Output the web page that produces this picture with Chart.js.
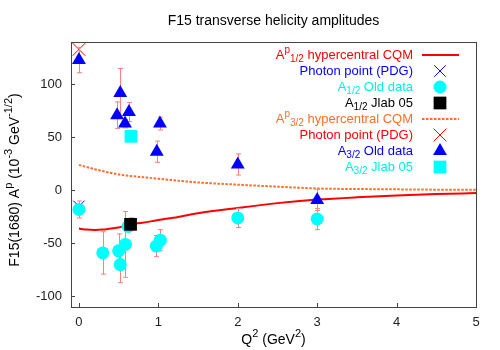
<!DOCTYPE html>
<html lang="en">
<head>
  <meta charset="UTF-8">
  <title>F15 transverse helicity amplitudes</title>
  <script src="https://cdn.jsdelivr.net/npm/chart.js"></script>
  <style>
    html, body { margin: 0; padding: 0; background: #fff; }
    #chart { display: block; }
  </style>
</head>
<body>
  <canvas id="chart" width="500" height="350"></canvas>
  <script>
    // axis ticks
    const xTicks = [0, 1, 2, 3, 4, 5];
    const yTicks = [-100, -50, 0, 50, 100];

    // hypercentral CQM curves
    const a12CurveQ2 = [0, 0.1, 0.2, 0.3, 0.4, 0.5, 0.65, 0.8, 1.0, 1.25, 1.5, 2.0, 2.5, 3.0, 3.5, 4.0, 4.5, 5.0];
    const a12CurveAmp = [-36, -37, -37.3, -37, -36, -35, -32, -30.5, -28, -25, -21.5, -16.5, -12, -8.7, -6.5, -4.8, -3.5, -2.5];
    const a32CurveQ2 = [0, 0.1, 0.2, 0.4, 0.6, 0.8, 1.0, 1.5, 2.0, 2.5, 3.0, 3.5, 4.0, 4.5, 5.0];
    const a32CurveAmp = [24, 22, 20, 16.5, 14, 12.5, 11, 7.5, 5.4, 3.5, 1.8, 1.3, 1.0, 0.7, 0.5];

    // photon points (PDG)
    const photonQ2 = [0];
    const photonA12 = [-15];
    const photonA32 = [133];

    // A1/2 data
    const oldA12Q2 = [0, 0.30, 0.50, 0.52, 0.585, 0.62, 0.975, 1.025, 2.0, 3.0];
    const oldA12 = [-18, -59, -57, -70, -51, -34, -52.5, -47, -26, -27];
    const oldA12Err = [8, 20, 16, 17, 31, 5, 10, 10, 9, 10];
    const jlabA12Q2 = [0.65];
    const jlabA12 = [-32];
    const jlabA12Err = [6];

    // A3/2 data
    const oldA32Q2 = [0, 0.48, 0.52, 0.58, 0.63, 0.98, 1.02, 2.0, 3.0];
    const oldA32 = [123, 71, 92, 63, 74, 36.5, 63, 24.5, -9];
    const oldA32Err = [12, 12.5, 23, 4, 9, 10, 6, 10, 10];
    const jlabA32Q2 = [0.655];
    const jlabA32 = [51];
    const jlabA32Err = [3];

    const FONT = '"Liberation Sans", Arial, Helvetica, sans-serif';
    const ERR_COLOR = '#ff8080';
    const ORANGE = '#ff6e28';
    const CYAN = '#00eeee';

    const pts = (xs, ys) => xs.map((x, i) => ({ x: x, y: ys[i] }));

    // draw text with ^{sup} and _{sub} markup
    function richParts(str) {
      const out = [];
      const re = /\^\{([^}]*)\}|_\{([^}]*)\}|([^^_]+)/g;
      let m;
      while ((m = re.exec(str))) {
        if (m[1] !== undefined) out.push({ t: m[1], k: 'sup' });
        else if (m[2] !== undefined) out.push({ t: m[2], k: 'sub' });
        else out.push({ t: m[3], k: 'n' });
      }
      return out;
    }
    function drawRich(ctx, str, x, y, align, size, color) {
      const parts = richParts(str);
      const small = Math.round(size * 0.75);
      let w = 0;
      parts.forEach(p => {
        ctx.font = (p.k === 'n' ? size : small) + 'px ' + FONT;
        p.w = ctx.measureText(p.t).width;
        w += p.w;
      });
      let cx = align === 'right' ? x - w : align === 'center' ? x - w / 2 : x;
      ctx.fillStyle = color;
      ctx.textAlign = 'left';
      ctx.textBaseline = 'middle';
      parts.forEach(p => {
        ctx.font = (p.k === 'n' ? size : small) + 'px ' + FONT;
        const dy = p.k === 'sup' ? -size * 0.4 : p.k === 'sub' ? size * 0.35 : 0;
        ctx.fillText(p.t, cx, y + dy);
        cx += p.w;
      });
    }

    const errorBars = {
      id: 'errorBars',
      beforeDatasetDraw(chart, args) {
        const ds = chart.data.datasets[args.index];
        if (!ds.errors) return;
        const { ctx, chartArea: a } = chart;
        const xs = chart.scales.x, ys = chart.scales.y;
        ctx.save();
        ctx.beginPath();
        ctx.rect(a.left, a.top, a.right - a.left, a.bottom - a.top);
        ctx.clip();
        ctx.strokeStyle = ERR_COLOR;
        ctx.lineWidth = 1;
        ds.data.forEach((p, i) => {
          const e = ds.errors[i];
          const px = Math.round(xs.getPixelForValue(p.x)) + 0.5;
          const y1 = ys.getPixelForValue(p.y + e);
          const y2 = ys.getPixelForValue(p.y - e);
          ctx.beginPath();
          ctx.moveTo(px, y1); ctx.lineTo(px, y2);
          ctx.moveTo(px - 2.5, y1); ctx.lineTo(px + 2.5, y1);
          ctx.moveTo(px - 2.5, y2); ctx.lineTo(px + 2.5, y2);
          ctx.stroke();
        });
        ctx.restore();
      }
    };

    const frameAndText = {
      id: 'frameAndText',
      afterDraw(chart) {
        const { ctx, chartArea: a } = chart;
        const xs = chart.scales.x, ys = chart.scales.y;
        ctx.save();
        // frame
        ctx.strokeStyle = '#444';
        ctx.lineWidth = 1;
        ctx.strokeRect(Math.round(a.left) + 0.5, Math.round(a.top) + 0.5, Math.round(a.right - a.left), Math.round(a.bottom - a.top));
        // inward ticks
        ctx.beginPath();
        xTicks.forEach(v => {
          const px = Math.round(xs.getPixelForValue(v)) + 0.5;
          ctx.moveTo(px, a.bottom); ctx.lineTo(px, a.bottom - 4);
        });
        yTicks.forEach(v => {
          const py = Math.round(ys.getPixelForValue(v)) + 0.5;
          ctx.moveTo(a.left, py); ctx.lineTo(a.left + 4, py);
        });
        ctx.stroke();

        // title and axis titles
        drawRich(ctx, 'F15 transverse helicity amplitudes', (a.left + a.right) / 2, 21, 'center', 14, '#000');
        drawRich(ctx, 'Q^{2} (GeV^{2})', (a.left + a.right) / 2, 340, 'center', 14, '#000');
        ctx.save();
        ctx.translate(15, 180);
        ctx.rotate(-Math.PI / 2);
        drawRich(ctx, 'F15(1680) A^{p} (10^{-3} GeV^{-1/2})', 0, 0, 'center', 14, '#000');
        ctx.restore();

        // legend
        const textRight = 413, sampleX = 440;
        chart.data.datasets.forEach((ds, i) => {
          const y = 55 + i * 16;
          drawRich(ctx, ds.legendText, textRight, y, 'right', 13, ds.textColor);
          if (ds.showLine) {
            ctx.save();
            ctx.strokeStyle = ds.borderColor;
            ctx.lineWidth = ds.borderWidth;
            ctx.setLineDash(ds.borderDash || []);
            ctx.beginPath();
            ctx.moveTo(sampleX - 18, y); ctx.lineTo(sampleX + 19, y);
            ctx.stroke();
            ctx.restore();
          } else {
            ctx.fillStyle = ds.backgroundColor;
            ctx.strokeStyle = ds.borderColor;
            ctx.setLineDash([]);
            Chart.helpers.drawPoint(ctx, {
              pointStyle: ds.pointStyle, rotation: 0,
              radius: ds.pointRadius, borderWidth: ds.borderWidth
            }, sampleX, y);
          }
        });
        ctx.restore();
      }
    };

    const datasets = [
      { legendText: 'A^{p}_{1/2} hypercentral CQM', textColor: '#ff0000',
        data: pts(a12CurveQ2, a12CurveAmp), showLine: true, borderColor: '#ff0000', borderWidth: 2,
        pointRadius: 0, tension: 0.4, cubicInterpolationMode: 'monotone' },
      { legendText: 'Photon point (PDG)', textColor: '#0000ff',
        data: pts(photonQ2, photonA12), pointStyle: 'crossRot', pointRadius: 8,
        borderColor: '#0000ff', backgroundColor: '#0000ff', borderWidth: 1 },
      { legendText: 'A_{1/2} Old data', textColor: CYAN,
        data: pts(oldA12Q2, oldA12), errors: oldA12Err, pointStyle: 'circle', pointRadius: 6.5,
        borderColor: '#00ffff', backgroundColor: '#00ffff', borderWidth: 0 },
      { legendText: 'A_{1/2} Jlab 05', textColor: '#000000',
        data: pts(jlabA12Q2, jlabA12), errors: jlabA12Err, pointStyle: 'rect', pointRadius: 9,
        borderColor: '#000000', backgroundColor: '#000000', borderWidth: 0 },
      { legendText: 'A^{p}_{3/2} hypercentral CQM', textColor: ORANGE,
        data: pts(a32CurveQ2, a32CurveAmp), showLine: true, borderColor: ORANGE, borderWidth: 2,
        borderDash: [2.5, 1.5], pointRadius: 0, tension: 0.4, cubicInterpolationMode: 'monotone' },
      { legendText: 'Photon point (PDG)', textColor: '#ff0000',
        data: pts(photonQ2, photonA32), pointStyle: 'crossRot', pointRadius: 9,
        borderColor: '#ff0000', backgroundColor: '#ff0000', borderWidth: 1 },
      { legendText: 'A_{3/2} Old data', textColor: '#0000ff',
        data: pts(oldA32Q2, oldA32), errors: oldA32Err, pointStyle: 'triangle', pointRadius: 8,
        borderColor: '#0000ff', backgroundColor: '#0000ff', borderWidth: 0 },
      { legendText: 'A_{3/2} Jlab 05', textColor: CYAN,
        data: pts(jlabA32Q2, jlabA32), errors: jlabA32Err, pointStyle: 'rect', pointRadius: 9,
        borderColor: '#00ffff', backgroundColor: '#00ffff', borderWidth: 0 }
    ];
    // later gnuplot entries sit on top
    datasets.forEach((d, i) => { d.order = datasets.length - i; });

    new Chart(document.getElementById('chart'), {
      type: 'scatter',
      data: { datasets: datasets },
      options: {
        responsive: false,
        animation: false,
        events: [],
        layout: { padding: { top: 42, right: 24, left: 0, bottom: 0 } },
        plugins: { legend: { display: false }, title: { display: false }, tooltip: { enabled: false } },
        scales: {
          x: {
            type: 'linear', min: -0.1, max: 5,
            grid: { display: false, drawTicks: false }, border: { display: false },
            ticks: { padding: 8, color: '#222', font: { family: FONT, size: 13 } },
            afterBuildTicks: s => { s.ticks = xTicks.map(v => ({ value: v })); },
            afterFit: s => { s.height = 43; }
          },
          y: {
            type: 'linear', min: -110, max: 140,
            grid: { display: false, drawTicks: false }, border: { display: false },
            ticks: { padding: 9, color: '#222', font: { family: FONT, size: 13 } },
            afterBuildTicks: s => { s.ticks = yTicks.map(v => ({ value: v })); },
            afterFit: s => { s.width = 71; }
          }
        }
      },
      plugins: [errorBars, frameAndText]
    });
  </script>
</body>
</html>
